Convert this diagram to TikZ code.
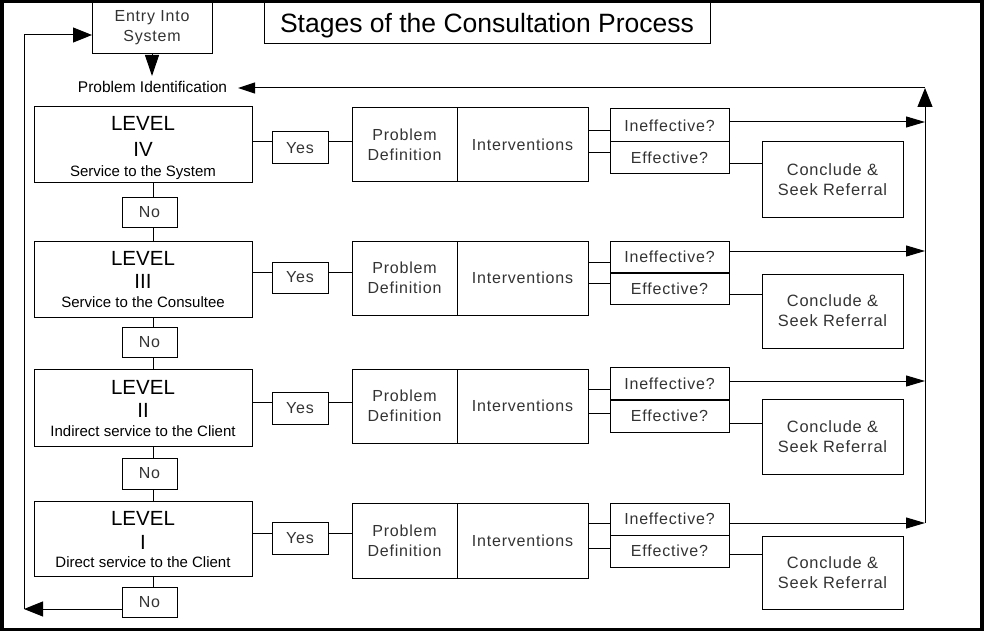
\documentclass[tikz,border=0pt]{standalone}
\usepackage{fontspec}
\setmainfont{Liberation Sans}
\newfontfamily\lsfont[LetterSpace=5]{Liberation Sans}
\usetikzlibrary{arrows.meta}
\begin{document}
\begin{tikzpicture}[x=1pt,y=-1pt,
  every node/.style={inner sep=0pt, outer sep=0pt},
  box/.style={draw, line width=1pt, anchor=north west, inner sep=0pt},
  lbl/.style={font=\lsfont\fontsize{16}{20}\selectfont, text=black!80, align=center},
  clbl/.style={font=\lsfont\fontsize{16.4}{20}\selectfont, text=black!80, align=center},
  lvA/.style={anchor=base, font=\fontsize{20.5}{22}\selectfont},
  lvB/.style={anchor=base, font=\fontsize{15}{16}\selectfont},
  conn/.style={line width=1pt},
  bigarrow/.style={line width=1pt, -{Triangle[length=19pt,width=15pt]}},
  smallarrow/.style={line width=1pt, -{Triangle[length=19pt,width=11pt]}},
  piarrow/.style={line width=1pt, -{Triangle[length=17pt,width=11pt]}},
  downarrow/.style={line width=1pt, -{Triangle[length=21pt,width=14pt]}},
  frame/.style={line width=3.5pt},
  thickdiv/.style={line width=2pt}
  ]
\useasboundingbox (0,0) rectangle (984,631);
\draw[frame] (2,1.5) rectangle (982,629.5);

% header
\node[box, lbl, minimum width=120pt, minimum height=53pt] (entry) at (92,1) {Entry Into\\System};
\node[box, minimum width=446pt, minimum height=43pt, font=\fontsize{26.5}{30}\selectfont, text depth=0pt] (title) at (264,1) {Stages of the Consultation Process};
\node[font=\fontsize{15.5}{17}\selectfont, inner xsep=11pt] (PI) at (152.5,87) {Problem Identification};
\coordinate (dn) at (152,76);
\draw[downarrow] (entry.south) -- (dn);

% ---------- Level IV ----------
\node[box, minimum width=218pt, minimum height=75pt] (L4) at (34,107) {};
\node[lvA] (L4a) at (143,131) {LEVEL};
\node[lvA] (L4b) at (143,157) {IV};
\node[lvB] (L4c) at (143,176.5) {Service to the System};
\node[box, lbl, minimum width=56pt, minimum height=32pt] (Y4) at (272,132) {Yes};
\node[box, lbl, minimum width=105pt, minimum height=73pt] (P4) at (352,108) {Problem\\Definition};
\node[box, lbl, minimum width=131pt, minimum height=73pt] (V4) at (457,108) {Interventions};
\node[box, lbl, minimum width=119pt, minimum height=33pt] (I4) at (610,109) {Ineffective?};
\node[box, lbl, minimum width=119pt, minimum height=32pt] (E4) at (610,142) {Effective?};
\node[box, clbl, minimum width=141pt, minimum height=75pt] (C4) at (762,142) {Conclude \&\\Seek Referral};
\node[box, lbl, minimum width=55pt, minimum height=30pt] (N4) at (122,197) {No};
\draw[conn] (L4.east |- 0,142) -- (Y4.west |- 0,142);
\draw[conn] (Y4.east |- 0,142) -- (P4.west |- 0,142);
\draw[conn] (V4.east |- 0,131) -- (I4.west |- 0,131);
\draw[conn] (V4.east |- 0,153) -- (E4.west |- 0,153);
\draw[conn] (E4.east |- 0,164) -- (C4.west |- 0,164);
\draw[conn] (L4.south -| 153,0) -- (N4.north -| 153,0);

% ---------- Level III ----------
\node[box, minimum width=218pt, minimum height=76pt] (L3) at (34,241) {};
\node[lvA] (L3a) at (143,265) {LEVEL};
\node[lvA] (L3b) at (143,288.5) {III};
\node[lvB] (L3c) at (143,307.5) {Service to the Consultee};
\node[box, lbl, minimum width=56pt, minimum height=31pt] (Y3) at (272,262) {Yes};
\node[box, lbl, minimum width=105pt, minimum height=74pt] (P3) at (352,241) {Problem\\Definition};
\node[box, lbl, minimum width=131pt, minimum height=74pt] (V3) at (457,241) {Interventions};
\node[box, lbl, minimum width=119pt, minimum height=32pt] (I3) at (610,241) {Ineffective?};
\node[box, lbl, minimum width=119pt, minimum height=31.5pt] (E3) at (610,273) {Effective?};
\draw[thickdiv] (I3.south west) -- (I3.south east);
\node[box, clbl, minimum width=141pt, minimum height=74pt] (C3) at (762,274) {Conclude \&\\Seek Referral};
\node[box, lbl, minimum width=55pt, minimum height=30pt] (N3) at (122,327) {No};
\draw[conn] (N4.south -| 153,0) -- (L3.north -| 153,0);
\draw[conn] (L3.east |- 0,272) -- (Y3.west |- 0,272);
\draw[conn] (Y3.east |- 0,272) -- (P3.west |- 0,272);
\draw[conn] (V3.east |- 0,262) -- (I3.west |- 0,262);
\draw[conn] (V3.east |- 0,283) -- (E3.west |- 0,283);
\draw[conn] (E3.east |- 0,294.5) -- (C3.west |- 0,294.5);
\draw[conn] (L3.south -| 153,0) -- (N3.north -| 153,0);

% ---------- Level II ----------
\node[box, minimum width=218pt, minimum height=77pt] (L2) at (34,369) {};
\node[lvA] (L2a) at (143,394) {LEVEL};
\node[lvA] (L2b) at (143,417.5) {II};
\node[lvB] (L2c) at (143,436) {Indirect service to the Client};
\node[box, lbl, minimum width=56pt, minimum height=32pt] (Y2) at (272,392) {Yes};
\node[box, lbl, minimum width=105pt, minimum height=74pt] (P2) at (352,369) {Problem\\Definition};
\node[box, lbl, minimum width=131pt, minimum height=74pt] (V2) at (457,369) {Interventions};
\node[box, lbl, minimum width=119pt, minimum height=33pt] (I2) at (610,367) {Ineffective?};
\node[box, lbl, minimum width=119pt, minimum height=32pt] (E2) at (610,400) {Effective?};
\draw[thickdiv] (I2.south west) -- (I2.south east);
\node[box, clbl, minimum width=141pt, minimum height=75pt] (C2) at (762,399) {Conclude \&\\Seek Referral};
\node[box, lbl, minimum width=55pt, minimum height=31pt] (N2) at (122,458) {No};
\draw[conn] (N3.south -| 153,0) -- (L2.north -| 153,0);
\draw[conn] (L2.east |- 0,402) -- (Y2.west |- 0,402);
\draw[conn] (Y2.east |- 0,402) -- (P2.west |- 0,402);
\draw[conn] (V2.east |- 0,389) -- (I2.west |- 0,389);
\draw[conn] (V2.east |- 0,413) -- (E2.west |- 0,413);
\draw[conn] (E2.east |- 0,423) -- (C2.west |- 0,423);
\draw[conn] (L2.south -| 153,0) -- (N2.north -| 153,0);

% ---------- Level I ----------
\node[box, minimum width=218pt, minimum height=75pt] (L1) at (34,501) {};
\node[lvA] (L1a) at (143,525) {LEVEL};
\node[lvA] (L1b) at (143,549.5) {I};
\node[lvB] (L1c) at (143,567) {Direct service to the Client};
\node[box, lbl, minimum width=56pt, minimum height=32pt] (Y1) at (272,522) {Yes};
\node[box, lbl, minimum width=105pt, minimum height=75pt] (P1) at (352,503) {Problem\\Definition};
\node[box, lbl, minimum width=131pt, minimum height=75pt] (V1) at (457,503) {Interventions};
\node[box, lbl, minimum width=119pt, minimum height=32pt] (I1) at (610,503) {Ineffective?};
\node[box, lbl, minimum width=119pt, minimum height=32pt] (E1) at (610,535) {Effective?};
\node[box, clbl, minimum width=141pt, minimum height=73pt] (C1) at (762,536) {Conclude \&\\Seek Referral};
\node[box, lbl, minimum width=55pt, minimum height=30pt] (N1) at (122,587) {No};
\draw[conn] (N2.south -| 153,0) -- (L1.north -| 153,0);
\draw[conn] (L1.east |- 0,533) -- (Y1.west |- 0,533);
\draw[conn] (Y1.east |- 0,533) -- (P1.west |- 0,533);
\draw[conn] (V1.east |- 0,523) -- (I1.west |- 0,523);
\draw[conn] (V1.east |- 0,548) -- (E1.west |- 0,548);
\draw[conn] (E1.east |- 0,554) -- (C1.west |- 0,554);
\draw[conn] (L1.south -| 153,0) -- (N1.north -| 153,0);

% ---------- right return line ----------
\coordinate (cR) at (925,88);
\coordinate (cRB) at (925,523);
\draw[bigarrow] (cRB) -- (cR);
\draw[piarrow] (cR) -- (PI.east |- cR);
\draw[smallarrow] (I4.east |- 0,122) -- (cR |- 0,122);
\draw[smallarrow] (I3.east |- 0,251) -- (cR |- 0,251);
\draw[smallarrow] (I2.east |- 0,381) -- (cR |- 0,381);
\draw[smallarrow] (I1.east |- 0,523) -- (cR |- 0,523);

% ---------- left return line ----------
\coordinate (cBL) at (24,609);
\coordinate (cTL) at (24,35);
\draw[bigarrow] (N1.west |- cBL) -- (cBL);
\draw[bigarrow] (cBL) -- (cTL) -- (entry.west |- cTL);
\end{tikzpicture}
\end{document}
